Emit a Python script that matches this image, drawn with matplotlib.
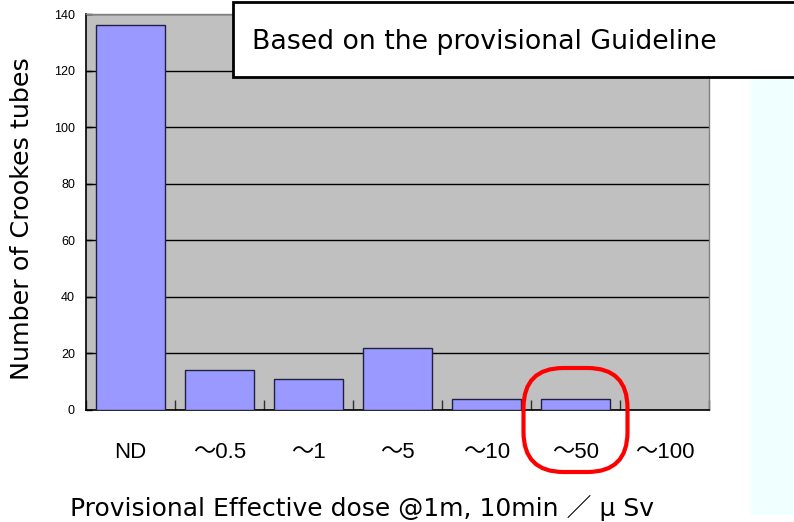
import matplotlib
matplotlib.use("Agg")
import matplotlib.pyplot as plt
import numpy as np
from matplotlib.patches import Rectangle, FancyBboxPatch
from matplotlib.transforms import IdentityTransform

plt.rcParams["font.family"] = ["Liberation Sans", "Noto Sans CJK JP", "DejaVu Sans"]
wide_font = ["DejaVu Sans", "Noto Sans CJK JP"]

# Data
categories = ["ND", "～0.5", "～1", "～5", "～10", "～50", "～100"]
counts = [136, 14, 11, 22, 4, 4, 0]
y_ticks = [0, 20, 40, 60, 80, 100, 120, 140]

W, H = 794, 522
fig = plt.figure(figsize=(W / 100, H / 100), dpi=100)

# faint cyan panel on the right edge of the slide
fig.patches.append(Rectangle((751 / W, 7 / H), 43 / W, 437 / H, transform=fig.transFigure,
                             facecolor="#F0FFFF", edgecolor="none", zorder=0))

ax = fig.add_axes([86 / W, 1 - 410 / H, 623 / W, 396 / H])
ax.set_facecolor("#C0C0C0")
x = np.arange(len(categories))
ax.bar(x, counts, width=0.78, color="#9999FF", edgecolor="#202040", linewidth=1.0, zorder=3)

ax.set_xlim(-0.5, len(categories) - 0.5)
ax.set_ylim(0, 140)
ax.set_yticks(y_ticks)
ax.set_yticklabels([str(v) for v in y_ticks], fontsize=9)
ax.tick_params(axis="y", direction="in", length=4, width=1, pad=8)
ax.yaxis.grid(True, color="black", linewidth=1.0, zorder=1)
ax.set_axisbelow(True)

ax.set_xticks(x)
ax.set_xticklabels(categories, fontsize=16)
ax.tick_params(axis="x", which="major", length=0, pad=23)
ax.set_xticks(np.arange(len(categories) + 1) - 0.5, minor=True)
ax.tick_params(axis="x", which="minor", direction="in", length=7, width=1, color="#303030")

for side in ["left", "bottom"]:
    ax.spines[side].set_color("black")
    ax.spines[side].set_linewidth(1.2)
for side in ["top", "right"]:
    ax.spines[side].set_color("#808080")
    ax.spines[side].set_linewidth(1.0)

fig.text(22 / W, 1 - 219 / H, "Number of Crookes tubes", rotation=90, fontsize=18.3,
         ha="center", va="center", family=wide_font)
fig.text(362 / W, 1 - 508 / H, "Provisional Effective dose @1m, 10min ／ μ Sv", fontsize=18,
         ha="center", va="center", family=wide_font)

# title box in the upper right
fig.patches.append(Rectangle((233 / W, 1 - 77 / H), 600 / W, 75 / H, transform=fig.transFigure,
                             facecolor="white", edgecolor="black", linewidth=2, zorder=5))
fig.text(252 / W, 1 - 42 / H, "Based on the provisional Guideline", fontsize=19.3,
         ha="left", va="center", zorder=6, family=wide_font)

# red ring around the ~50 category
fig.canvas.draw()
cx, _ = ax.transData.transform((5, 0))
y0 = (1 - 410 / H) * H
ring = FancyBboxPatch((cx - 40, y0 - 50), 80, 80, boxstyle="round,pad=12,rounding_size=40",
                      transform=IdentityTransform(), facecolor="none", edgecolor="#FF0000",
                      linewidth=3, zorder=10)
fig.patches.append(ring)

fig.savefig("out.png", dpi=100)
